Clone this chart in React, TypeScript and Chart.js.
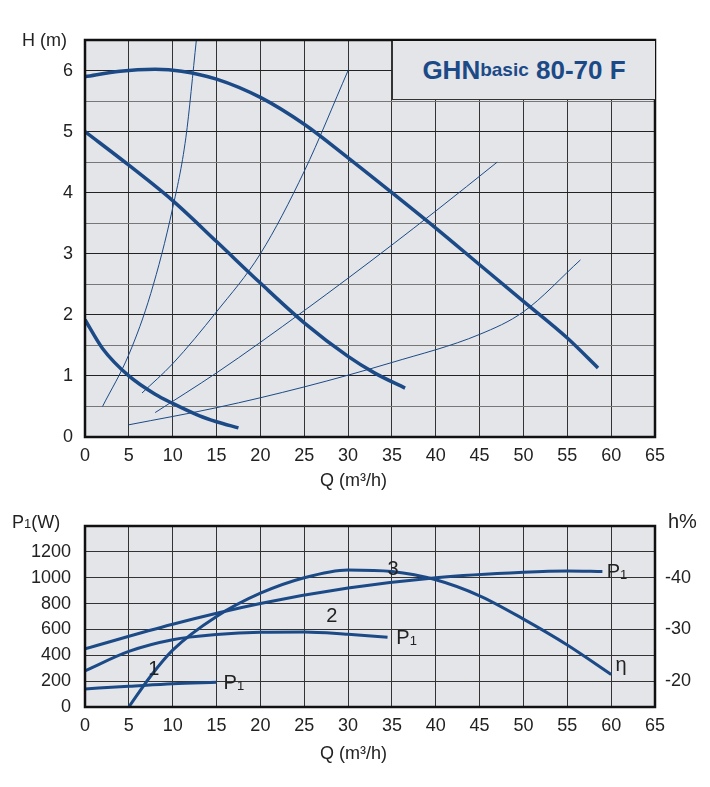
import React, { useEffect, useRef } from "react";
import { Chart, registerables } from "chart.js";
Chart.register(...registerables);

const BLUE = "#1b4a87";
const Q_TICKS = [0, 5, 10, 15, 20, 25, 30, 35, 40, 45, 50, 55, 60, 65];
const H_TICKS = [0, 1, 2, 3, 4, 5, 6];
const P_TICKS = [0, 200, 400, 600, 800, 1000, 1200];
const ETA_TICKS = [20, 30, 40];

// pump curves H(Q)
const curve3 = [[0,5.9],[4,5.99],[8,6.02],[11,5.99],[15,5.86],[20,5.56],[25,5.12],[30,4.57],[35,4.0],[40,3.42],[45,2.82],[50,2.22],[55,1.62],[58.5,1.13]];
const curve2 = [[0,5],[5,4.45],[10,3.87],[15,3.2],[20,2.52],[25,1.87],[30,1.32],[33,1.05],[36.5,0.8]];
const curve1 = [[0,1.92],[2,1.45],[5,1.0],[8,0.7],[10,0.55],[13,0.35],[15,0.25],[17.5,0.15]];
// system curves
const sysA = [[2,0.5],[5,1.35],[7.5,2.35],[10,3.75],[11.5,4.9],[12.7,6.5]];
const sysB = [[6.5,0.72],[10,1.2],[15,2.05],[20,3.0],[25,4.35],[30,6.0]];
const sysC = [[8,0.4],[15,1.05],[20,1.55],[30,2.6],[40,3.7],[47,4.5]];
const sysD = [[5,0.2],[15,0.48],[25,0.82],[35,1.22],[45,1.68],[50,2.05],[56.5,2.9]];

// power curves P1(Q)
const p3 = [[0,450],[10,640],[20,800],[30,920],[40,1000],[50,1042],[55,1052],[59,1048]];
const p2 = [[0,280],[5,430],[10,520],[15,560],[20,578],[25,580],[30,562],[34.5,540]];
const p1 = [[0,140],[5,160],[10,180],[15,192]];
// efficiency eta(Q) in %
const eta = [[5,15],[7.5,21],[10,26],[15,32.5],[20,37],[25,40],[30,41.5],[35,41.2],[40,39.6],[45,36.5],[50,32],[55,27],[60,21.3]];

const bottomLabels: [string, string, number, number][] = [
  ["1", "", 7.2, 290], ["2", "", 27.5, 700], ["3", "", 34.5, 1060],
  ["P", "1", 59.5, 1040], ["P", "1", 35.5, 530], ["P", "1", 15.8, 180], ["η", "", 60.5, 320],
];

const FONT = "'Liberation Sans', Arial, sans-serif";
const toPts = (a: number[][]) => a.map(([x, y]) => ({ x, y }));

const bgPlugin = {
  id: "bg",
  beforeDraw(chart: any) {
    const { ctx, chartArea: a } = chart;
    ctx.save();
    ctx.fillStyle = "#e3e5e9";
    ctx.fillRect(a.left, a.top, a.right - a.left, a.bottom - a.top);
    ctx.restore();
  },
  afterDatasetsDraw(chart: any) {
    const { ctx, chartArea: a } = chart;
    ctx.save();
    ctx.strokeStyle = "#111";
    ctx.lineWidth = 2.5;
    ctx.strokeRect(a.left, a.top, a.right - a.left, a.bottom - a.top);
    ctx.restore();
  },
};

function line(data: number[][], w: number, axis = "y") {
  return {
    data: toPts(data), showLine: true, borderColor: BLUE, borderWidth: w,
    pointRadius: 0, cubicInterpolationMode: "monotone", yAxisID: axis, fill: false,
  };
}

function xScale(title: string) {
  return {
    type: "linear", min: 0, max: 65,
    afterBuildTicks: (s: any) => { s.ticks = Q_TICKS.map((v) => ({ value: v })); },
    afterFit: (s: any) => { s.height = title ? 53 : 80; },
    grid: { color: "#333", lineWidth: 1, drawTicks: false },
    border: { display: false },
    ticks: { color: "#222", font: { family: FONT, size: 18 }, padding: 8, maxRotation: 0 },
  };
}

export default function App() {
  const topRef = useRef<HTMLCanvasElement>(null);
  const botRef = useRef<HTMLCanvasElement>(null);
  useEffect(() => {
    document.body.style.margin = "0";
    const top = new Chart(topRef.current!, {
      type: "scatter",
      data: {
        datasets: [
          line(curve3, 3.5), line(curve2, 3.5), line(curve1, 3.5),
          line(sysA, 1), line(sysB, 1), line(sysC, 1), line(sysD, 1),
        ] as any,
      },
      options: {
        animation: false, responsive: false,
        layout: { padding: { left: 0, right: 55, top: 40, bottom: 0 } },
        plugins: { legend: { display: false }, tooltip: { enabled: false } },
        scales: {
          x: xScale("t") as any,
          y: {
            min: 0, max: 6.5,
            afterBuildTicks: (s: any) => {
              const t = []; for (let i = 0; i <= 13; i++) t.push({ value: i / 2 }); s.ticks = t;
            },
            afterFit: (s: any) => { s.width = 85; },
            grid: { color: (c: any) => (Number.isInteger(c.tick?.value) ? "#222" : "#777"), drawTicks: false },
            border: { display: false },
            ticks: {
              color: "#222", font: { family: FONT, size: 18 }, padding: 12,
              callback: (v: any) => (H_TICKS.includes(v) ? String(v) : ""),
            },
          },
        },
      },
      plugins: [bgPlugin],
    });
    const labelPlugin = {
      id: "labels",
      afterDatasetsDraw(chart: any) {
        const { ctx, scales } = chart;
        ctx.save();
        ctx.fillStyle = "#222";
        ctx.textBaseline = "middle";
        for (const [t, sub, q, w] of bottomLabels) {
          const x = scales.x.getPixelForValue(q);
          const y = scales.y.getPixelForValue(w);
          ctx.font = `20px ${FONT}`;
          ctx.fillText(t, x, y);
          if (sub) {
            const tw = ctx.measureText(t).width;
            ctx.font = `13px ${FONT}`;
            ctx.fillText(sub, x + tw, y + 3);
          }
        }
        ctx.restore();
      },
    };
    const bot = new Chart(botRef.current!, {
      type: "scatter",
      data: {
        datasets: [
          line(p3, 3), line(p2, 3), line(p1, 3), line(eta, 3, "y2"),
        ] as any,
      },
      options: {
        animation: false, responsive: false,
        layout: { padding: { left: 0, right: 0, top: 36, bottom: 0 } },
        plugins: { legend: { display: false }, tooltip: { enabled: false } },
        scales: {
          x: xScale("") as any,
          y: {
            min: 0, max: 1400, position: "left",
            afterBuildTicks: (s: any) => {
              const t = []; for (let v = 0; v <= 1400; v += 200) t.push({ value: v }); s.ticks = t;
            },
            afterFit: (s: any) => { s.width = 85; },
            grid: { color: "#333", drawTicks: false },
            border: { display: false },
            ticks: {
              color: "#222", font: { family: FONT, size: 18 }, padding: 14,
              callback: (v: any) => (P_TICKS.includes(v) ? String(v) : ""),
            },
          },
          y2: {
            min: 15, max: 50, position: "right",
            afterBuildTicks: (s: any) => { s.ticks = ETA_TICKS.map((v) => ({ value: v })); },
            afterFit: (s: any) => { s.width = 55; },
            grid: { display: false, drawTicks: true },
            border: { display: false },
            ticks: {
              color: "#222", font: { family: FONT, size: 18 }, padding: 2,
              callback: (v: any) => "-" + v,
            },
          },
        },
      },
      plugins: [bgPlugin, labelPlugin],
    });
    return () => { top.destroy(); bot.destroy(); };
  }, []);

  const txt: React.CSSProperties = { position: "absolute", fontFamily: FONT, fontSize: 18, color: "#222", whiteSpace: "nowrap" };
  return (
    <div style={{ position: "relative", width: 710, height: 787, background: "#fff" }}>
      <canvas ref={topRef} width={710} height={490} style={{ position: "absolute", left: 0, top: 0, width: 710, height: 490 }} />
      <canvas ref={botRef} width={710} height={297} style={{ position: "absolute", left: 0, top: 490, width: 710, height: 297 }} />
      <div style={{ ...txt, left: 22, top: 30 }}>H (m)</div>
      <div style={{ ...txt, left: 320, top: 470 }}>Q (m³/h)</div>
      <div style={{ ...txt, left: 320, top: 743 }}>Q (m³/h)</div>
      <div style={{ ...txt, left: 12, top: 512 }}>P<span style={{ fontSize: 13 }}>1</span>(W)</div>
      <div style={{ ...txt, left: 668, top: 510, fontSize: 20 }}>h%</div>
      <div style={{
        position: "absolute", left: 392, top: 41, width: 262, height: 58, background: "#e3e5e9",
        borderLeft: "1px solid #333", borderBottom: "1px solid #333",
        display: "flex", alignItems: "center", justifyContent: "center",
        fontFamily: FONT, fontWeight: "bold", color: BLUE, fontSize: 26, whiteSpace: "nowrap",
      }}>
        GHN<span style={{ fontSize: 19 }}>basic</span>&nbsp;80-70 F
      </div>
    </div>
  );
}
